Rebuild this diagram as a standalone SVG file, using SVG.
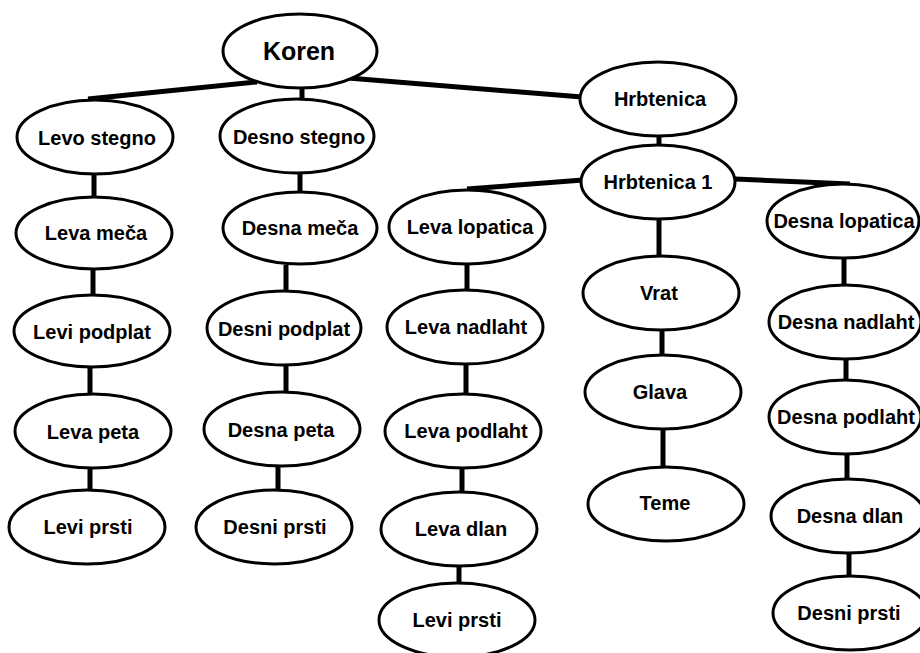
<svg xmlns="http://www.w3.org/2000/svg" width="920" height="653" viewBox="0 0 920 653">
<style>
.n ellipse{fill:#fff;stroke:#000;stroke-width:3}
.n text{font-family:"Liberation Sans",Arial,sans-serif;font-weight:bold;font-size:20px;text-anchor:middle;fill:#000}
#edges line{stroke:#000;stroke-width:5;stroke-linecap:butt}
</style>
<rect width="920" height="653" fill="#fff"/>
<g id="edges">
<line x1="257" y1="82" x2="88" y2="99"/>
<line x1="302" y1="88" x2="302" y2="100"/>
<line x1="348" y1="78" x2="582" y2="97"/>
<line x1="94" y1="174" x2="94" y2="198"/>
<line x1="300" y1="173" x2="300" y2="193"/>
<line x1="93" y1="269" x2="93" y2="296"/>
<line x1="286" y1="265" x2="286" y2="292"/>
<line x1="90" y1="367" x2="90" y2="394"/>
<line x1="286" y1="365" x2="286" y2="393"/>
<line x1="90" y1="468" x2="90" y2="491"/>
<line x1="278" y1="466" x2="278" y2="491"/>
<line x1="659" y1="136" x2="659" y2="146"/>
<line x1="583" y1="180" x2="467" y2="189"/>
<line x1="735" y1="179" x2="850" y2="184"/>
<line x1="659" y1="219" x2="659" y2="257"/>
<line x1="662" y1="330" x2="662" y2="356"/>
<line x1="663" y1="429" x2="663" y2="468"/>
<line x1="467" y1="264" x2="467" y2="291"/>
<line x1="466" y1="363" x2="466" y2="394"/>
<line x1="462" y1="468" x2="462" y2="493"/>
<line x1="459" y1="566" x2="459" y2="584"/>
<line x1="844" y1="258" x2="844" y2="286"/>
<line x1="846" y1="358" x2="846" y2="381"/>
<line x1="847" y1="454" x2="847" y2="480"/>
<line x1="849" y1="553" x2="849" y2="578"/>
</g>
<g id="koren" class="n"><ellipse cx="300" cy="51" rx="77" ry="37"/><text x="299" y="60" style="font-size:25px">Koren</text></g>
<g id="levo-stegno" class="n"><ellipse cx="95" cy="137" rx="78" ry="37"/><text x="97" y="145">Levo stegno</text></g>
<g id="desno-stegno" class="n"><ellipse cx="297" cy="136" rx="77" ry="37"/><text x="299" y="144">Desno stegno</text></g>
<g id="leva-meca" class="n"><ellipse cx="94" cy="233" rx="78" ry="36"/><text x="96" y="240">Leva meča</text></g>
<g id="desna-meca" class="n"><ellipse cx="300" cy="228" rx="77" ry="36"/><text x="300" y="235">Desna meča</text></g>
<g id="levi-podplat" class="n"><ellipse cx="92" cy="331" rx="78" ry="36"/><text x="92" y="339">Levi podplat</text></g>
<g id="desni-podplat" class="n"><ellipse cx="284" cy="328" rx="77" ry="37"/><text x="284" y="336">Desni podplat</text></g>
<g id="leva-peta" class="n"><ellipse cx="93" cy="431" rx="78" ry="37"/><text x="93" y="439">Leva peta</text></g>
<g id="desna-peta" class="n"><ellipse cx="282" cy="429" rx="78" ry="37"/><text x="281" y="437">Desna peta</text></g>
<g id="levi-prsti" class="n"><ellipse cx="87" cy="527" rx="78" ry="37"/><text x="88" y="534">Levi prsti</text></g>
<g id="desni-prsti" class="n"><ellipse cx="274" cy="527" rx="78" ry="37"/><text x="275" y="534">Desni prsti</text></g>
<g id="hrbtenica" class="n"><ellipse cx="658" cy="99" rx="78" ry="37"/><text x="660" y="106">Hrbtenica</text></g>
<g id="hrbtenica-1" class="n"><ellipse cx="658" cy="182" rx="77" ry="37"/><text x="658" y="189">Hrbtenica 1</text></g>
<g id="leva-lopatica" class="n"><ellipse cx="467" cy="227" rx="78" ry="37"/><text x="470" y="234">Leva lopatica</text></g>
<g id="leva-nadlaht" class="n"><ellipse cx="465" cy="327" rx="78" ry="37"/><text x="466" y="334">Leva nadlaht</text></g>
<g id="leva-podlaht" class="n"><ellipse cx="463" cy="431" rx="78" ry="37"/><text x="466" y="438">Leva podlaht</text></g>
<g id="leva-dlan" class="n"><ellipse cx="459" cy="529" rx="78" ry="37"/><text x="461" y="536">Leva dlan</text></g>
<g id="levi-prsti-2" class="n"><ellipse cx="457" cy="620" rx="78" ry="37"/><text x="457" y="627">Levi prsti</text></g>
<g id="desna-lopatica" class="n"><ellipse cx="843" cy="221" rx="76" ry="37"/><text x="844" y="228">Desna lopatica</text></g>
<g id="vrat" class="n"><ellipse cx="661" cy="293" rx="78" ry="37"/><text x="659" y="300">Vrat</text></g>
<g id="desna-nadlaht" class="n"><ellipse cx="845" cy="322" rx="76" ry="37"/><text x="846" y="329">Desna nadlaht</text></g>
<g id="glava" class="n"><ellipse cx="663" cy="392" rx="78" ry="37"/><text x="660" y="399">Glava</text></g>
<g id="desna-podlaht" class="n"><ellipse cx="845" cy="417" rx="76" ry="37"/><text x="846" y="424">Desna podlaht</text></g>
<g id="teme" class="n"><ellipse cx="666" cy="504" rx="78" ry="37"/><text x="665" y="510">Teme</text></g>
<g id="desna-dlan" class="n"><ellipse cx="848" cy="516" rx="77" ry="37"/><text x="850" y="523">Desna dlan</text></g>
<g id="desni-prsti-2" class="n"><ellipse cx="850" cy="613" rx="77" ry="37"/><text x="849" y="620">Desni prsti</text></g>
</svg>
